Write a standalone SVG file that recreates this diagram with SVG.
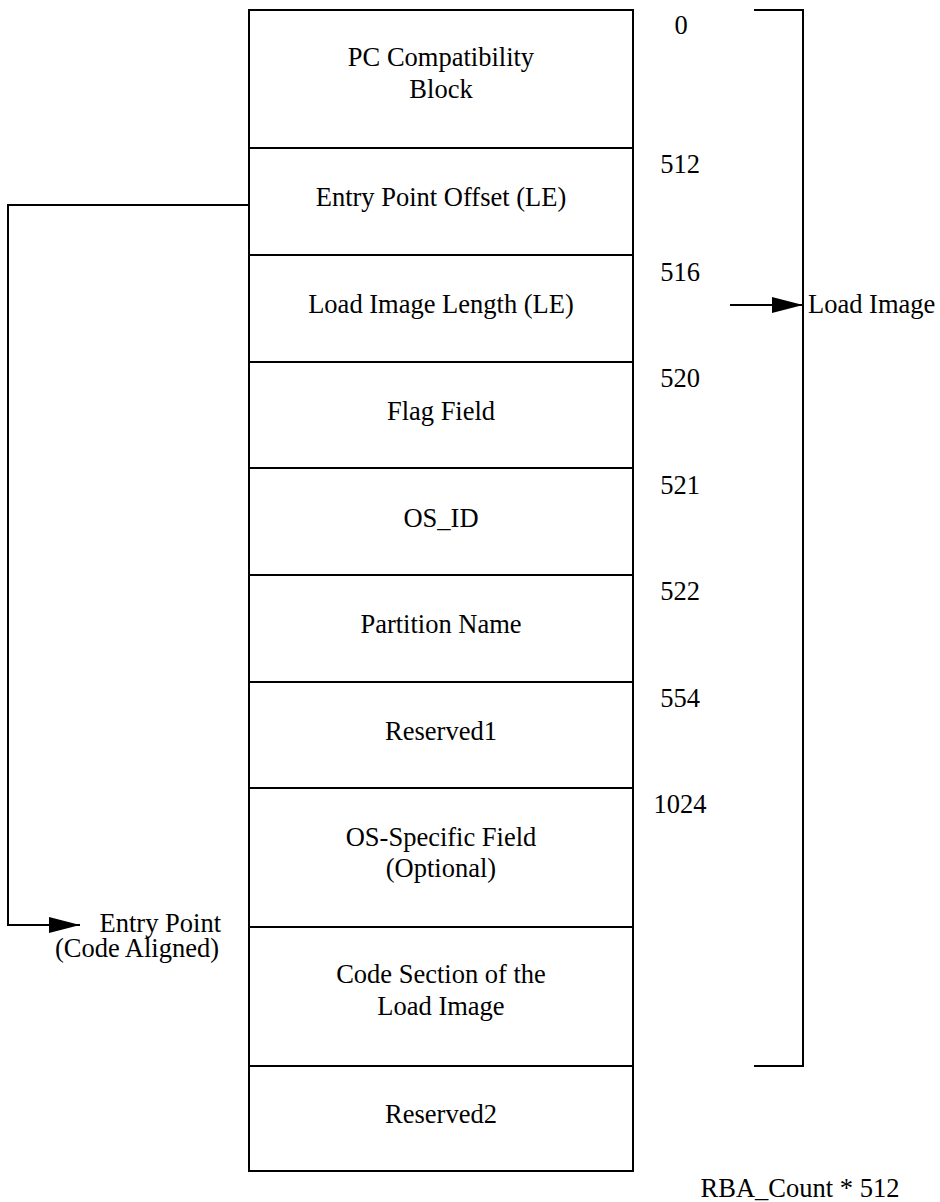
<svg xmlns="http://www.w3.org/2000/svg" width="940" height="1202" viewBox="0 0 940 1202">
<style>
.t,.n,.r,.l{font-family:"Liberation Serif","Times New Roman",serif;font-size:26.5px;fill:#000}
.t,.n{text-anchor:middle}
.r{text-anchor:end}
.l{text-anchor:start}
.box{fill:#fff;stroke:#000;stroke-width:2}
.ln{fill:none;stroke:#000;stroke-width:2}
</style>
<defs>
<marker id="ah" markerWidth="31" markerHeight="16" refX="31" refY="8" orient="auto" markerUnits="userSpaceOnUse">
<path d="M0,0 L31,8 L0,16 Z" fill="#000"/>
</marker>
</defs>
<rect x="0" y="0" width="940" height="1202" fill="#fff"/>
<g id="pc-compat"><rect class="box" x="249" y="10" width="384" height="138"/><text class="t" x="441" y="66">PC Compatibility</text><text class="t" x="441" y="98">Block</text></g>
<g id="entry-offset"><rect class="box" x="249" y="148" width="384" height="107"/><text class="t" x="441" y="206">Entry Point Offset (LE)</text></g>
<g id="load-len"><rect class="box" x="249" y="255" width="384" height="107"/><text class="t" x="441" y="313">Load Image Length (LE)</text></g>
<g id="flag"><rect class="box" x="249" y="362" width="384" height="106"/><text class="t" x="441" y="420">Flag Field</text></g>
<g id="os-id"><rect class="box" x="249" y="468" width="384" height="107"/><text class="t" x="441" y="527">OS_ID</text></g>
<g id="partition"><rect class="box" x="249" y="575" width="384" height="107"/><text class="t" x="441" y="633">Partition Name</text></g>
<g id="reserved1"><rect class="box" x="249" y="682" width="384" height="106"/><text class="t" x="441" y="740">Reserved1</text></g>
<g id="os-specific"><rect class="box" x="249" y="788" width="384" height="139"/><text class="t" x="441" y="846">OS-Specific Field</text><text class="t" x="441" y="877">(Optional)</text></g>
<g id="code-section"><rect class="box" x="249" y="927" width="384" height="139"/><text class="t" x="441" y="983">Code Section of the</text><text class="t" x="441" y="1015">Load Image</text></g>
<g id="reserved2"><rect class="box" x="249" y="1066" width="384" height="105"/><text class="t" x="441" y="1123">Reserved2</text></g>
<g id="offsets">
<text class="n" x="681" y="34">0</text>
<text class="n" x="680" y="173">512</text>
<text class="n" x="680" y="281">516</text>
<text class="n" x="680" y="387">520</text>
<text class="n" x="680" y="494">521</text>
<text class="n" x="680" y="600">522</text>
<text class="n" x="680" y="707">554</text>
<text class="n" x="680" y="813">1024</text>
<text class="n" x="800" y="1197">RBA_Count * 512</text>
</g>
<g id="load-image-label"><text class="l" x="808" y="313">Load Image</text></g>
<g id="entry-point-label"><text class="r" x="221" y="932">Entry Point</text><text class="r" x="219" y="957">(Code Aligned)</text></g>
<g id="connectors">
<path class="ln" d="M754,10 H803 V1066 H754"/>
<path class="ln" d="M730,305 H803" marker-end="url(#ah)"/>
<path class="ln" d="M249,205 H8 V925 H80" marker-end="url(#ah)"/>
</g>
</svg>
